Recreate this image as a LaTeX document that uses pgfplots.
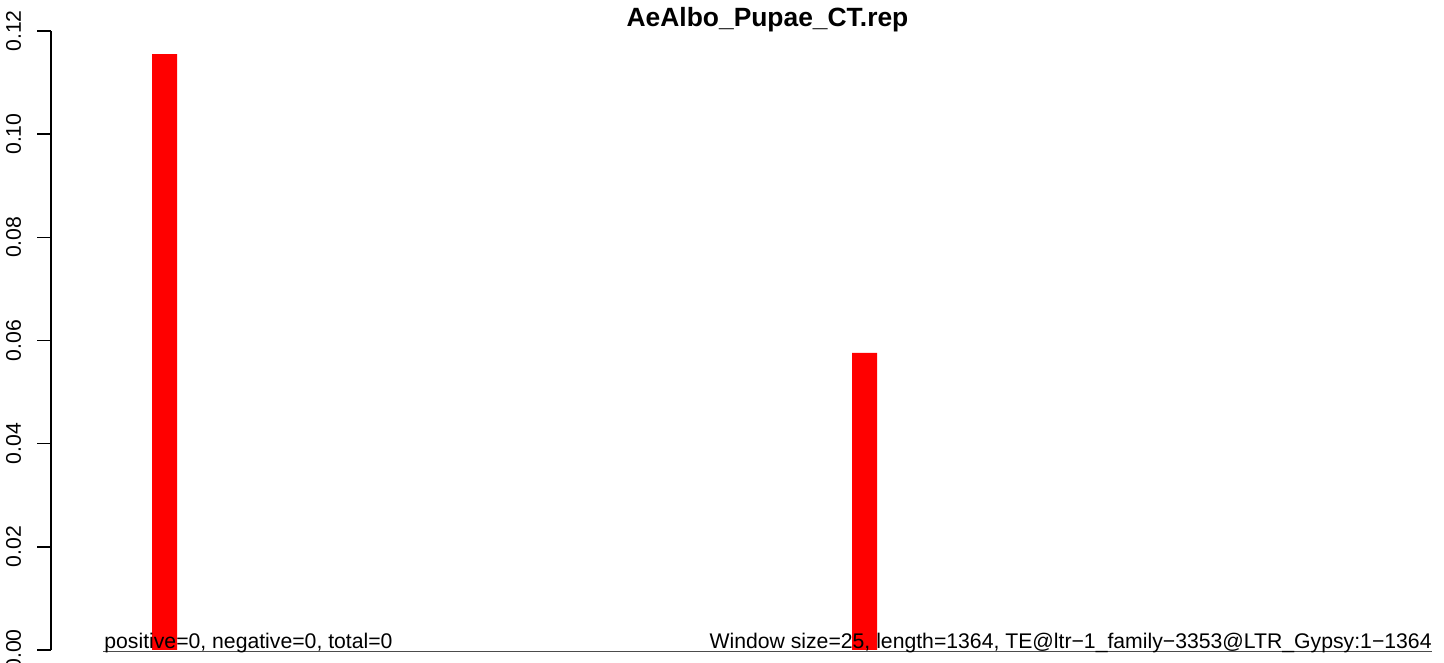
\documentclass[border=0pt]{standalone}
\usepackage{fontspec}
\setmainfont{Liberation Sans}
\usepackage{pgfplots}
\pgfplotsset{compat=1.18}
\begin{document}
\begin{tikzpicture}
\path[use as bounding box] (-25.5pt,-6.5pt) rectangle (696.5pt,325pt);
\begin{axis}[
 at={(0pt,0pt)}, anchor=south west,
 scale only axis, width=690.5pt, height=309.5pt,
 xmin=51, xmax=1432, ymin=0, ymax=0.12,
 axis x line=none, axis y line*=left,
 ytick={0,0.02,0.04,0.06,0.08,0.10,0.12},
 yticklabels={0.00,0.02,0.04,0.06,0.08,0.10,0.12},
 yticklabel style={rotate=90, anchor=base, yshift=8pt, font=\fontsize{10.6}{12}\selectfont},
 tick align=outside, major tick length=7pt,
 ytick style={draw=black, line width=0.75pt},
 axis line style={black, line width=0.75pt},
 clip=false,
]
\addplot[ybar, bar width=25, bar shift=0pt, fill=red, draw=none] coordinates {(164.5,0.1155) (864.5,0.0576)};
\addplot[black!70, line width=0.5pt, forget plot] coordinates {(103,-0.0002) (1432,-0.0002)};
\node[anchor=base west, font=\fontsize{10.6}{12}\selectfont, inner sep=0pt] at (axis cs:104,0.0002) {positive=0, negative=0, total=0};
\node[anchor=base east, font=\fontsize{10.6}{12}\selectfont, inner sep=0pt] at (axis cs:1432,0.0002) {Window size=25, length=1364, TE@ltr−1\_family−3353@LTR\_Gypsy:1−1364};
\node[anchor=base, font=\bfseries\fontsize{13.2}{15}\selectfont, inner sep=0pt] at (axis cs:767.5,0.1208) {AeAlbo\_Pupae\_CT.rep};
\end{axis}
\end{tikzpicture}
\end{document}
